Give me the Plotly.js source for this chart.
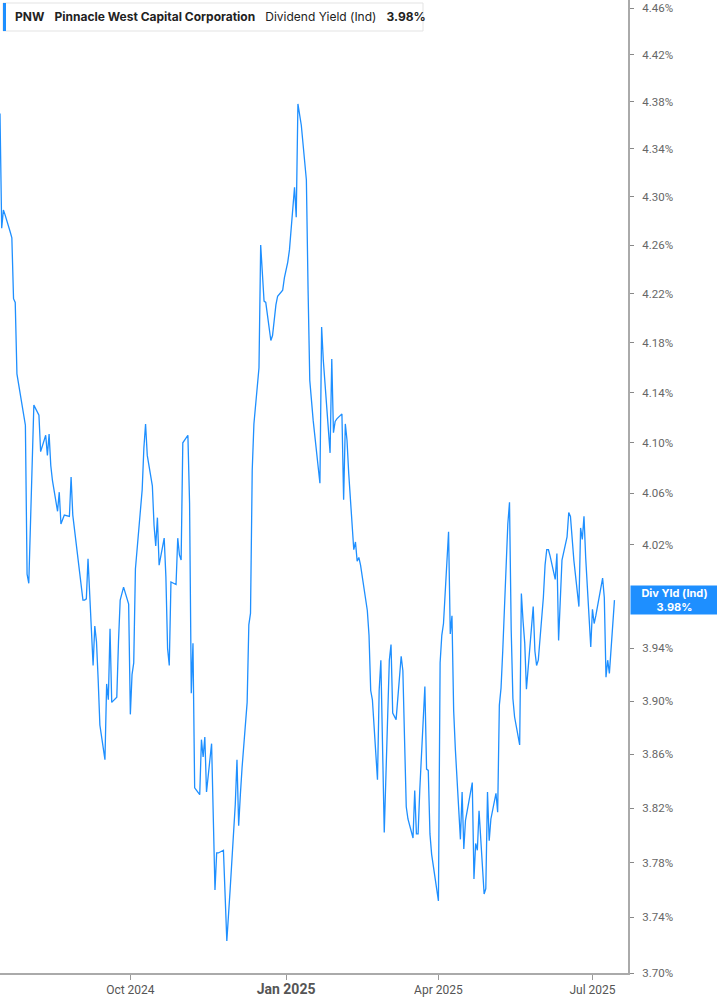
<!DOCTYPE html>
<html>
<head>
<meta charset="utf-8">
<script src="https://cdn.plot.ly/plotly-3.0.1.min.js"></script>
<style>
  html, body { margin: 0; padding: 0; background: #fff; }
  #chart { width: 717px; height: 1005px; }
</style>
</head>
<body>
<div id="chart"></div>
<script>
// PNW dividend yield (%), one value per trading day
const jul2024 = [4.370, 4.274, 4.289, 4.285, 4.271, 4.266, 4.216, 4.213, 4.155, 4.131, 4.122, 4.114]
const aug2024 = [3.997, 3.990, 4.130, 4.127, 4.124, 4.122, 4.093, 4.106, 4.090, 4.107, 4.082, 4.070,
  4.046, 4.061, 4.036, 4.040, 4.043, 4.042, 4.073, 4.043, 4.032, 4.022]
const sep2024 = [3.977, 3.977, 3.978, 4.009, 3.927, 3.957, 3.945, 3.916, 3.882, 3.856, 3.913, 3.901,
  3.955, 3.899, 3.903, 3.945, 3.977, 3.982, 3.987, 3.974]
const oct2024 = [3.890, 3.920, 3.929, 4.001, 4.051, 4.063, 4.096, 4.115, 4.090, 4.066, 4.035, 4.019,
  4.041, 4.004, 4.025, 3.995, 3.940, 3.927, 3.991, 3.989, 4.025, 4.012, 4.008]
const nov2024 = [4.100, 4.106, 4.052, 3.906, 3.944, 3.835, 3.830, 3.871, 3.858, 3.873, 3.832, 3.868,
  3.809, 3.760, 3.787, 3.787, 3.789, 3.753, 3.723, 3.761]
const dec2024 = [3.823, 3.856, 3.807, 3.830, 3.850, 3.899, 3.958, 3.967, 4.078, 4.115, 4.160, 4.260,
  4.236, 4.214, 4.213, 4.182, 4.186, 4.211, 4.218, 4.223, 4.233]
const jan2025 = [4.246, 4.256, 4.308, 4.283, 4.378, 4.360, 4.314, 4.223, 4.150, 4.134, 4.118, 4.068,
  4.193, 4.166, 4.148, 4.092, 4.167, 4.108, 4.117, 4.119]
const feb2025 = [4.123, 4.055, 4.115, 4.102, 4.076, 4.016, 4.022, 4.007, 4.010, 4.004, 3.969, 3.950,
  3.908, 3.901, 3.841, 3.908, 3.931, 3.849, 3.802]
const mar2025 = [3.931, 3.943, 3.891, 3.889, 3.886, 3.934, 3.923, 3.871, 3.821, 3.812, 3.798, 3.833,
  3.801, 3.801, 3.834, 3.911, 3.849, 3.848, 3.801, 3.786, 3.760]
const apr2025 = [3.752, 3.929, 3.950, 3.959, 4.030, 3.951, 3.965, 3.893, 3.864, 3.797, 3.832, 3.790,
  3.811, 3.839, 3.768, 3.794, 3.789, 3.818, 3.757, 3.761, 3.832]
const may2025 = [3.796, 3.812, 3.831, 3.817, 3.897, 3.910, 3.938, 4.036, 4.053, 3.954, 3.902, 3.888,
  3.867, 3.982, 3.961, 3.944, 3.909, 3.972, 3.938, 3.927, 3.931]
const jun2025 = [3.979, 4.004, 4.016, 4.016, 4.011, 3.993, 4.013, 3.946, 3.985, 4.008, 4.026, 4.045,
  4.042, 4.008, 3.972, 4.033, 4.024, 4.042, 4.010, 3.941]
const jul2025 = [3.970, 3.959, 3.965, 3.994, 3.979, 3.918, 3.931, 3.921, 3.977]

const FIRST_DAY = '2024-07-16'
const MARKET_HOLIDAYS = ['2024-09-02', '2024-11-28', '2024-12-25', '2025-01-01', '2025-01-09',
  '2025-01-20', '2025-02-17', '2025-04-18', '2025-05-26', '2025-06-19', '2025-07-04']

// 3.98% sits under the last-value badge, so it is not listed
const Y_TICKS = [3.70, 3.74, 3.78, 3.82, 3.86, 3.90, 3.94, 4.02, 4.06, 4.10, 4.14,
  4.18, 4.22, 4.26, 4.30, 4.34, 4.38, 4.42, 4.46]
const X_TICKS = ['2024-10-01', '2025-01-01', '2025-04-01', '2025-07-01']
const X_TICK_TEXT = ['Oct 2024', '<b><span style="font-size:14px">Jan 2025</span></b>', 'Apr 2025', 'Jul 2025']

const LAST_YIELD = '3.98%'
const COLOR_LINE = '#1e8fff'

const yields = [].concat(jul2024, aug2024, sep2024, oct2024, nov2024, dec2024,
  jan2025, feb2025, mar2025, apr2025, may2025, jun2025, jul2025)

// trading days: weekdays that are not market holidays
function tradingDays (start, count) {
  let days = []
  let d = new Date(start + 'T00:00:00Z')
  while (days.length < count) {
    let iso = d.toISOString().slice(0, 10)
    let wd = d.getUTCDay()
    if (wd !== 0 && wd !== 6 && !MARKET_HOLIDAYS.includes(iso)) days.push(iso)
    d.setUTCDate(d.getUTCDate() + 1)
  }
  return days
}

const dates = tradingDays(FIRST_DAY, yields.length)

const W = 628  // plot area width in px, for paper coords
const H = 973

const trace = {
  x: dates,
  y: yields,
  type: 'scatter',
  mode: 'lines',
  line: { color: COLOR_LINE, width: 1.3 },
  hoverinfo: 'skip'
}

const layout = {
  width: 717,
  height: 1005,
  margin: { l: 0, r: 89, t: 0, b: 32 },
  paper_bgcolor: '#fff',
  plot_bgcolor: '#fff',
  showlegend: false,
  font: { family: 'Inter, Roboto, sans-serif', color: '#555' },
  xaxis: {
    type: 'date',
    range: ['2024-07-16', '2025-07-22'],
    tickmode: 'array',
    tickvals: X_TICKS,
    ticktext: X_TICK_TEXT,
    ticks: 'outside',
    ticklen: 5,
    tickcolor: '#999',
    tickfont: { family: 'Roboto, sans-serif', size: 12, color: '#555' },
    showline: true,
    linecolor: '#aaa',
    linewidth: 2,
    showgrid: false,
    zeroline: false,
    fixedrange: true
  },
  yaxis: {
    type: 'log',
    side: 'right',
    range: [Math.log10(3.70), Math.log10(4.467)],
    tickmode: 'array',
    tickvals: Y_TICKS,
    ticktext: Y_TICKS.map(v => v.toFixed(2) + '%'),
    ticks: 'outside',
    ticklen: 4,
    tickcolor: '#888',
    ticklabelstandoff: 6,
    tickfont: { family: 'Roboto, sans-serif', size: 11.5, color: '#666' },
    showline: true,
    linecolor: '#aaa',
    linewidth: 2,
    showgrid: false,
    zeroline: false,
    fixedrange: true
  },
  shapes: [
    {
      type: 'rect', xref: 'paper', yref: 'paper',
      x0: 3 / W, x1: 423 / W, y0: 1 - 31 / H, y1: 1 - 3 / H,
      line: { color: '#e3e3e3', width: 1 }, fillcolor: '#fff', layer: 'above'
    },
    {
      type: 'rect', xref: 'paper', yref: 'paper',
      x0: 3 / W, x1: 6 / W, y0: 1 - 31 / H, y1: 1 - 3 / H,
      line: { width: 0 }, fillcolor: COLOR_LINE, layer: 'above'
    }
  ],
  annotations: [
    {
      xref: 'paper', yref: 'paper',
      x: 13 / W, y: 1 - 17 / H,
      xanchor: 'left', yanchor: 'middle',
      showarrow: false,
      align: 'left',
      text: '<b>PNW</b>\u00a0\u00a0\u00a0<b>Pinnacle West Capital Corporation</b>\u00a0\u00a0\u00a0Dividend Yield (Ind)\u00a0\u00a0\u00a0<b>' + LAST_YIELD + '</b>',
      font: { family: 'Inter, sans-serif', size: 12, color: '#222' }
    },
    {
      xref: 'paper', yref: 'y',
      x: 1, y: Math.log10(yields[yields.length - 1]),
      xanchor: 'left', yanchor: 'middle',
      xshift: 2,
      showarrow: false,
      align: 'center',
      width: 85,
      height: 26,
      bgcolor: COLOR_LINE,
      borderpad: 1,
      text: '<b>Div Yld (Ind)</b><br><b>' + LAST_YIELD + '</b>',
      font: { family: 'Inter, sans-serif', size: 11, color: '#fff' }
    }
  ]
}

Plotly.newPlot('chart', [trace], layout, { displayModeBar: false, staticPlot: true })
</script>
</body>
</html>
